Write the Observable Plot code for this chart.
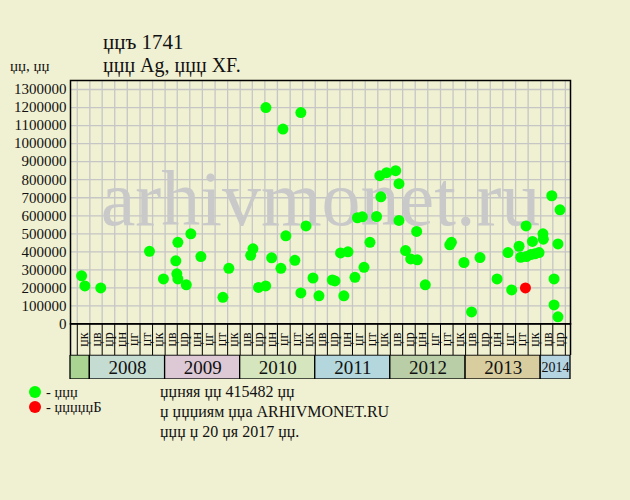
<!DOCTYPE html>
<html><head><meta charset="utf-8">
<script src="https://cdn.jsdelivr.net/npm/d3@7"></script>
<script src="https://cdn.jsdelivr.net/npm/@observablehq/plot@0.6"></script>
<style>
html,body{margin:0;padding:0;background:#f0f0d2;}
#wrap{position:relative;width:630px;height:500px;overflow:hidden;font-family:"Liberation Serif",serif;color:#111;background:#f0f0d2;}
.t{position:absolute;white-space:nowrap;line-height:1;}
.p{position:absolute;left:0;}
.dotl{position:absolute;width:12px;height:12px;border-radius:6px;}
</style></head>
<body><div id="wrap">
<div class="t" style="left:103px;top:32px;font-size:21px;">џџъ 1741</div>
<div class="t" style="left:103px;top:55px;font-size:20px;">џџџ Ag, џџџ XF.</div>
<div class="t" style="left:10px;top:59px;font-size:15px;">џџ, џџ</div>
<div id="chart" class="p" style="top:0;"></div>
<div id="mrow" class="p" style="top:323px;"></div>
<div id="yrow" class="p" style="top:355px;"></div>
<div class="dotl" style="left:29px;top:386px;background:#00ff00;"></div>
<div class="dotl" style="left:29px;top:401px;background:#ff0000;"></div>
<div class="t" style="left:46px;top:385px;font-size:14.5px;">- џџџ</div>
<div class="t" style="left:46px;top:400px;font-size:14.5px;">- џџџџџБ</div>
<div class="t" style="left:160px;top:384px;font-size:16px;">џџняя џџ 415482 џџ</div>
<div class="t" style="left:160px;top:404px;font-size:16px;">џ џџџиям џџа ARHIVMONET.RU</div>
<div class="t" style="left:160px;top:424px;font-size:16px;">џџџ џ 20 џя 2017 џџ.</div>
</div>
<script>
// ---- data ----
const saleDates = ["2007-11-22","2007-12-08","2008-02-23","2008-10-17","2008-12-24","2009-02-22","2009-03-04","2009-02-27","2009-03-04","2009-04-14","2009-05-06","2009-06-24","2009-10-09","2009-11-07","2010-02-21","2010-03-04","2010-03-31","2010-05-05","2010-05-06","2010-06-03","2010-07-18","2010-07-28","2010-08-11","2010-09-24","2010-10-23","2010-10-23","2010-11-17","2010-12-21","2011-01-19","2011-03-25","2011-04-07","2011-05-20","2011-05-04","2011-06-09","2011-07-13","2011-08-26","2011-07-25","2011-08-18","2011-09-24","2011-10-26","2011-11-16","2011-11-11","2011-12-14","2012-01-27","2012-02-12","2012-02-12","2012-05-08","2012-03-15","2012-04-09","2012-05-11","2012-06-19","2012-10-16","2012-10-24","2012-12-24","2013-01-30","2013-03-12","2013-06-03","2013-08-13","2013-07-26","2013-09-18","2013-09-26","2013-10-24","2013-11-14","2013-12-04","2013-12-24","2013-10-22","2013-11-22","2014-01-12","2014-01-14","2014-02-24","2014-04-05","2014-03-26","2014-03-07","2014-03-07","2014-03-26"];
const salePrices = [267000,211000,200000,403000,250000,350000,453000,278000,250000,217000,500000,374000,148000,309000,381000,417000,203000,211000,1200000,367000,309000,1081000,489000,353000,1172000,172000,544000,255000,156000,244000,239000,156000,394000,400000,259000,314000,589000,594000,453000,596000,705000,822000,839000,850000,778000,574000,513000,407000,361000,356000,217000,439000,453000,341000,67000,368000,250000,189000,396000,431000,370000,374000,385000,389000,396000,544000,458000,500000,470000,711000,633000,444000,250000,106000,40000];
const redDates = ["2013-10-19"];
const redPrices = [200000];
const yTicks = [0,100000,200000,300000,400000,500000,600000,700000,800000,900000,1000000,1100000,1200000,1300000];
const monthNames = ["џв","џр","џн","џг","џт","џк"]; // label of the 2-month column ending in Feb, Apr, Jun, Aug, Oct, Dec
const yearLabels = ["","2008","2009","2010","2011","2012","2013","2014"];
const yearColors = ["#a9d491","#c5dcd3","#dcc9d5","#d5e5bd","#b3d7dc","#b9cda6","#d8cd9e","#b5d4e1"];

// ---- derived tables ----
const xDomain = [new Date("2007-09-29"), new Date("2014-05-26")];
const green = saleDates.map((d,i)=>({date:new Date(d), price:salePrices[i]}));
const red = redDates.map((d,i)=>({date:new Date(d), price:redPrices[i]}));
const bounds = d3.utcMonth.every(2).range(new Date("2007-11-01"), new Date("2014-05-02"));
const cols = bounds.slice(0,-1).map(s=>({mid:d3.utcMonth.offset(s,1), label:monthNames[s.getUTCMonth()/2]}));
const yearStarts = [xDomain[0], ...d3.range(2008,2015).map(y=>new Date(Date.UTC(y,0,1)))];
const years = yearLabels.map((l,i)=>({label:l, color:yearColors[i], x1:yearStarts[i], x2: i<yearLabels.length-1 ? yearStarts[i+1] : xDomain[1]}));
years.forEach(d=>d.mid = new Date((+d.x1 + +d.x2)/2));

const common = {width:630, marginLeft:70, marginRight:60,
  style:{background:"transparent", fontFamily:"Liberation Serif", color:"#111"}};
const xs = {type:"utc", domain:xDomain, axis:null};

const chart = Plot.plot({
  ...common, height:340, marginTop:80, marginBottom:16.5,
  style:{...common.style, fontSize:"15px"},
  x:xs,
  y:{domain:[0,1350000], ticks:yTicks, tickFormat:d=>String(d), tickSize:0, tickPadding:4, label:null},
  marks:[
    Plot.ruleX(bounds, {stroke:"#c6c6c6", strokeWidth:1.3}),
    Plot.ruleY(yTicks, {stroke:"#c6c6c6", strokeWidth:1.3}),
    Plot.text(["arhivmonet.ru"], {frameAnchor:"middle", dy:-2, fontSize:78, fill:"#c9c9c9", fontFamily:"Liberation Serif"}),
    Plot.dot(green, {x:"date", y:"price", r:5.5, fill:"#00ff00", stroke:null}),
    Plot.dot(red, {x:"date", y:"price", r:5.5, fill:"#ff0000", stroke:null}),
    Plot.frame({stroke:"#000", strokeWidth:1.5})
  ]
});
document.getElementById("chart").append(chart);

const mrow = Plot.plot({
  ...common, height:32, marginTop:0, marginBottom:0,
  x:xs,
  marks:[
    Plot.ruleX(bounds, {stroke:"#000", strokeWidth:1}),
    Plot.text(cols, {x:"mid", text:"label", frameAnchor:"middle", rotate:-90, fontSize:14, fill:"#111"}),
    Plot.frame({stroke:"#000", strokeWidth:1.5})
  ]
});
document.getElementById("mrow").append(mrow);

const yrow = Plot.plot({
  ...common, height:24, marginTop:0, marginBottom:0,
  x:xs,
  marks:[
    Plot.rect(years, {x1:"x1", x2:"x2", fill:"color", stroke:"#000", strokeWidth:1.3}),
    Plot.text(years, {x:"mid", text:"label", frameAnchor:"middle", fontSize:d=>d.label==="2014"?14:19, fill:"#111"})
  ]
});
document.getElementById("yrow").append(yrow);
</script>
</body></html>
